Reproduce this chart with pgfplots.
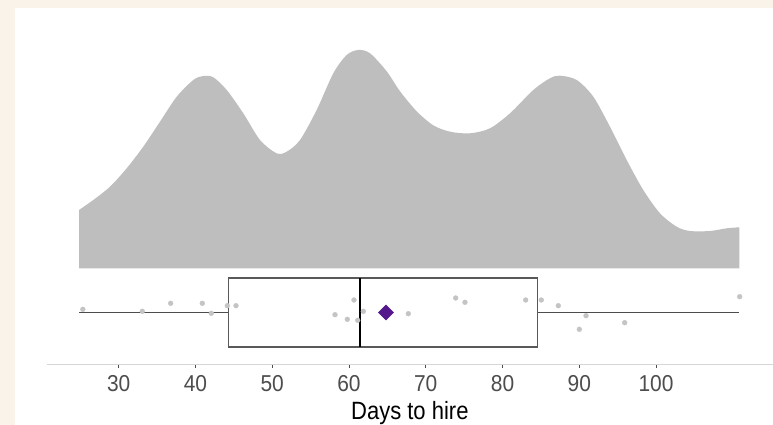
\documentclass[border=0pt]{standalone}
\usepackage{fontspec}
\setmainfont{Liberation Sans}
\usepackage{pgfplots}
\pgfplotsset{compat=1.18}
\usepgfplotslibrary{statistics}
\definecolor{bgbeige}{HTML}{FAF3EA}
\definecolor{densgray}{HTML}{BEBEBE}
\definecolor{ptgray}{HTML}{C4C4C4}
\definecolor{meanpurple}{HTML}{54188C}
\definecolor{tickgray}{HTML}{4D4D4D}
\definecolor{axisgray}{HTML}{D6D6D6}
\definecolor{boxgray}{HTML}{595959}
\begin{document}
\begin{tikzpicture}
\useasboundingbox (0,0) rectangle (773pt,425pt);
\fill[bgbeige] (0,0) rectangle (773pt,425pt);
\fill[white] (15pt,0) rectangle (773pt,417pt);
% density panel
\begin{axis}[
  at={(46.7pt,156.7pt)}, anchor=south west,
  scale only axis, width=726.3pt, height=260pt,
  xmin=20.62, xmax=115.24, ymin=0, ymax=260,
  hide axis, clip=false,
]
\addplot[draw=none, fill=densgray, smooth, tension=0.5] table[x=x, y=h] {
x h
24.83 58.3
26.69 68.3
28.87 81.6
31.04 100
33.20 121.6
35.38 146.6
37.56 171.6
39.72 188.3
41.02 192.3
42.32 191
44.07 178.3
46.23 155
48.41 128.3
50.58 115
51.89 116.6
53.62 128.3
55.79 158.3
57.96 195
59.70 213.3
61.21 218.3
62.74 215
64.91 197
66.65 177
68.82 157
70.98 143
73.16 136.6
75.77 135
78.37 140
80.98 155
84.01 178.3
86.18 190
87.49 192.6
89.67 188.3
91.83 171.6
94.00 141.6
96.18 108.3
98.34 78.3
100.52 55
102.69 41.6
104.43 37.3
107.03 37.3
109.21 40
110.85 41
} \closedcycle;
\end{axis}
% box plot panel
\begin{axis}[
  at={(46.7pt,61pt)}, anchor=south west,
  scale only axis, width=726.3pt, height=95pt,
  xmin=20.62, xmax=115.24, ymin=0, ymax=95,
  axis x line*=bottom, axis y line=none,
  x axis line style={color=axisgray, line width=0.9pt, -},
  xtick={30,40,50,60,70,80,90,100},
  tick align=outside, major tick length=3.5pt,
  tick style={color=tickgray, line width=0.8pt},
  /pgf/number format/assume math mode=true,
  xticklabel style={font=\fontsize{23}{26}\selectfont\addfontfeature{FakeStretch=0.91}, text=tickgray, anchor=base, yshift=-24.2pt},
  xlabel={Days to hire},
  xlabel style={font=\fontsize{25}{28}\selectfont\addfontfeature{FakeStretch=0.88}, text=black, at={(axis description cs:0.5,0)}, anchor=base, yshift=-55pt},
  clip=false,
]
\addplot[draw=boxgray, line width=1.3pt,
  boxplot/draw direction=x,
  boxplot prepared={lower whisker=24.83, lower quartile=44.3, median=61.4,
    upper quartile=84.6, upper whisker=110.85, draw position=51.5,
    box extend=69, whisker extend=0},
  boxplot/every median/.style={draw=black, line width=1.8pt},
  boxplot/every whisker/.style={draw=tickgray, line width=1pt},
] coordinates {};
% jittered observations
\addplot[only marks, mark=*, mark size=2.4pt, color=ptgray] table {
x y
25.33 54.7
33.07 52.7
36.77 60.7
40.89 60.7
42.06 50.7
44.15 58.3
45.28 58.3
58.18 49.3
59.78 44.7
60.65 64
61.14 43.7
61.87 52.7
67.73 50.3
73.90 66
75.11 61.7
83.02 64
85.05 64
87.27 58.3
90.01 34.7
90.88 48.3
95.92 41.3
110.90 67.3
};
% mean
\addplot[only marks, mark=square*, mark size=5.3pt, color=meanpurple, mark options={rotate=45}] coordinates {(64.82,51.5)};
\end{axis}
\end{tikzpicture}
\end{document}
